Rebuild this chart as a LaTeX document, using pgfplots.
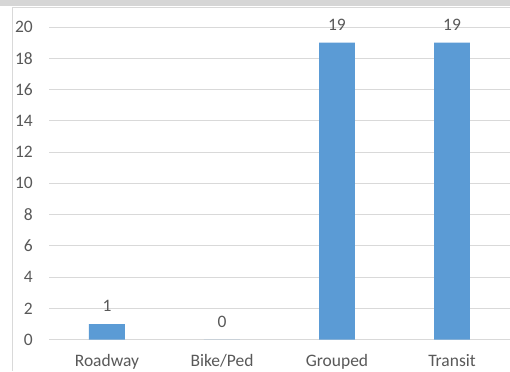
\documentclass[border=0pt]{standalone}
\usepackage{pgfplots}
\pgfplotsset{compat=1.18}
\usepackage{fontspec}
\setmainfont{Carlito}
\definecolor{barblue}{HTML}{5B9BD5}
\definecolor{gridgray}{HTML}{D9D9D9}
\definecolor{txtgray}{HTML}{595959}
\definecolor{bandgray}{HTML}{D6D6D6}
\begin{document}
\begin{tikzpicture}[x=1pt,y=1pt]
\fill[white] (0,0) rectangle (510,371);
\fill[bandgray] (0,365) rectangle (510,371);
\draw[gridgray, line width=1pt] (12.5,0) -- (12.5,363.5) -- (510,363.5);
\begin{axis}[
  at={(49.5pt,31pt)}, anchor=south west,
  scale only axis, width=460.5pt, height=313pt,
  xmin=-0.5, xmax=3.5, ymin=0, ymax=20,
  axis line style={draw=none},
  ytick={0,2,...,20},
  ymajorgrids, grid style={gridgray, line width=0.8pt},
  major tick length=0pt,
  xtick={0,1,2,3},
  xticklabels={Roadway,Bike/Ped,Grouped,Transit},
  tick label style={font=\fontsize{17.5}{20}\selectfont, text=txtgray},
  yticklabel style={anchor=east, inner sep=0pt, xshift=-16.5pt},
  xticklabel style={anchor=base, inner sep=0pt, yshift=-26.5pt},
  /pgf/number format/assume math mode=true,
  clip=false,
]
\addplot[ybar, bar width=36pt, fill=barblue, draw=none,
  nodes near coords,
  every node near coord/.append style={font=\fontsize{17.5}{20}\selectfont, text=txtgray, anchor=south, inner sep=0pt, yshift=12pt},
] coordinates {(0,1) (1,0) (2,19) (3,19)};
\end{axis}
\end{tikzpicture}
\end{document}
